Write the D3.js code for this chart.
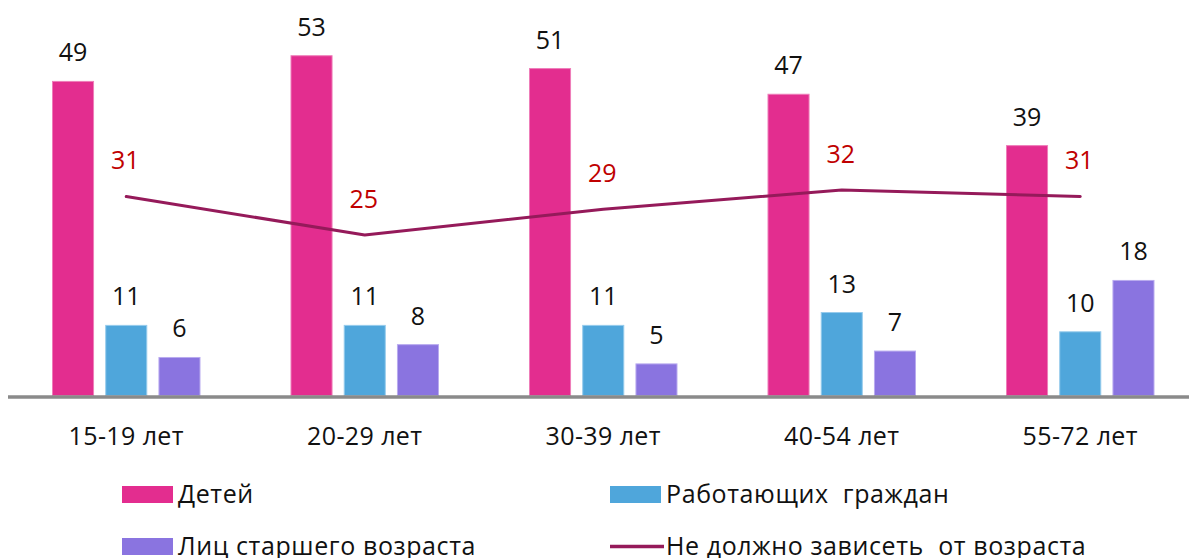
<!DOCTYPE html>
<html>
<head>
<meta charset="utf-8">
<script src="https://cdn.jsdelivr.net/npm/d3@7"></script>
<style>
  html, body { margin: 0; padding: 0; background: #fff; }
  svg { display: block; font-family: "Open Sans", "Noto Sans", sans-serif; }
</style>
</head>
<body>
<svg id="chart" width="1189" height="558"></svg>
<script>
// Age groups and the share (%) of answers per group
const categories = ["15-19 лет", "20-29 лет", "30-39 лет", "40-54 лет", "55-72 лет"];
const seriesNames = ["Детей", "Работающих  граждан", "Лиц старшего возраста"];
const children = [49, 53, 51, 47, 39];
const workers = [11, 11, 11, 13, 10];
const elderly = [6, 8, 5, 7, 18];
const lineName = "Не должно зависеть  от возраста";
const noAgeDependence = [31, 25, 29, 32, 31];

const barColors = ["#E32D8F", "#4FA6DB", "#8A74E0"];
const barEdges = ["#EE7DB9", "#96CBEC", "#B9ABEF"];
const lineColor = "#951A5A";
const lineLabelColor = "#C00000";

const svg = d3.select("#chart");
const width = 1189;

const baseline = 395.5;
const y = d3.scaleLinear().domain([0, 60]).range([baseline, baseline - 60 * 6.42]);

const x0 = d3.scaleBand().domain(categories).range([7, 1199.5]).paddingInner(0).paddingOuter(0);
const x1 = d3.scaleBand().domain(d3.range(3)).range([45, 193.5]).paddingInner(0.21).paddingOuter(0);

const seriesValues = [children, workers, elderly];

// Bars with value labels
const groups = svg.append("g").selectAll("g")
  .data(categories)
  .join("g")
  .attr("transform", d => `translate(${x0(d)},0)`);

groups.each(function(cat, ci) {
  const g = d3.select(this);
  seriesValues.forEach((vals, si) => {
    const v = vals[ci];
    g.append("rect")
      .attr("x", x1(si) + 0.5)
      .attr("y", y(v) + 0.5)
      .attr("width", x1.bandwidth() - 1)
      .attr("height", baseline - y(v) - 0.5)
      .attr("fill", barColors[si])
      .attr("stroke", barEdges[si])
      .attr("stroke-width", 1);
    g.append("text")
      .attr("x", x1(si) + x1.bandwidth() / 2)
      .attr("y", y(v) - 19.5)
      .attr("text-anchor", "middle")
      .attr("font-size", 25)
      .attr("fill", "#111")
      .text(v);
  });
});

// Axis baseline
svg.append("line")
  .attr("x1", 8).attr("x2", width)
  .attr("y1", baseline + 1.5).attr("y2", baseline + 1.5)
  .attr("stroke", "#8A8A8A")
  .attr("stroke-width", 3.5);

// Category labels
const xAxis = d3.axisBottom(x0).tickSize(0).tickPadding(0);
const axisG = svg.append("g")
  .attr("transform", `translate(0,${baseline})`)
  .call(xAxis);
axisG.select(".domain").remove();
axisG.selectAll(".tick").attr("transform", d => `translate(${x0(d) + x1(1) + x1.bandwidth() / 2},0)`);
axisG.selectAll(".tick text")
  .attr("y", 49)
  .attr("dy", 0)
  .attr("font-size", 25)
  .attr("letter-spacing", 0.4)
  .attr("font-family", "Open Sans, Noto Sans, sans-serif")
  .attr("fill", "#111");

// Line series, drawn through the middle bar of each group
const lineX = d => x0(d) + x1(1) + x1.bandwidth() / 2;
const line = d3.line()
  .x((d, i) => lineX(categories[i]))
  .y(d => y(d));

svg.append("path")
  .datum(noAgeDependence)
  .attr("d", line)
  .attr("fill", "none")
  .attr("stroke", lineColor)
  .attr("stroke-width", 3)
  .attr("stroke-linecap", "round")
  .attr("stroke-linejoin", "round");

svg.append("g").selectAll("text")
  .data(noAgeDependence)
  .join("text")
  .attr("x", (d, i) => lineX(categories[i]) - 1)
  .attr("y", d => y(d) - 27)
  .attr("text-anchor", "middle")
  .attr("font-size", 25)
  .attr("fill", lineLabelColor)
  .text(d => d);

// Legend
const legendItems = [
  { name: seriesNames[0], type: "rect", color: barColors[0], x: 122, y: 486 },
  { name: seriesNames[1], type: "rect", color: barColors[1], x: 610, y: 486 },
  { name: seriesNames[2], type: "rect", color: barColors[2], x: 122, y: 538 },
  { name: lineName, type: "line", color: lineColor, x: 610, y: 538 }
];

const legend = svg.append("g");
legendItems.forEach(item => {
  const g = legend.append("g").attr("transform", `translate(${item.x},${item.y})`);
  if (item.type === "rect") {
    g.append("rect").attr("width", 51).attr("height", 17).attr("fill", item.color);
  } else {
    g.append("line").attr("x1", 0).attr("x2", 54).attr("y1", 8.5).attr("y2", 8.5)
      .attr("stroke", item.color).attr("stroke-width", 3.5);
  }
  g.append("text")
    .attr("x", 56)
    .attr("y", 17.3)
    .attr("font-size", 25)
    .attr("letter-spacing", 0.6)
    .attr("fill", "#111")
    .style("white-space", "pre")
    .text(item.name);
});
</script>
</body>
</html>
